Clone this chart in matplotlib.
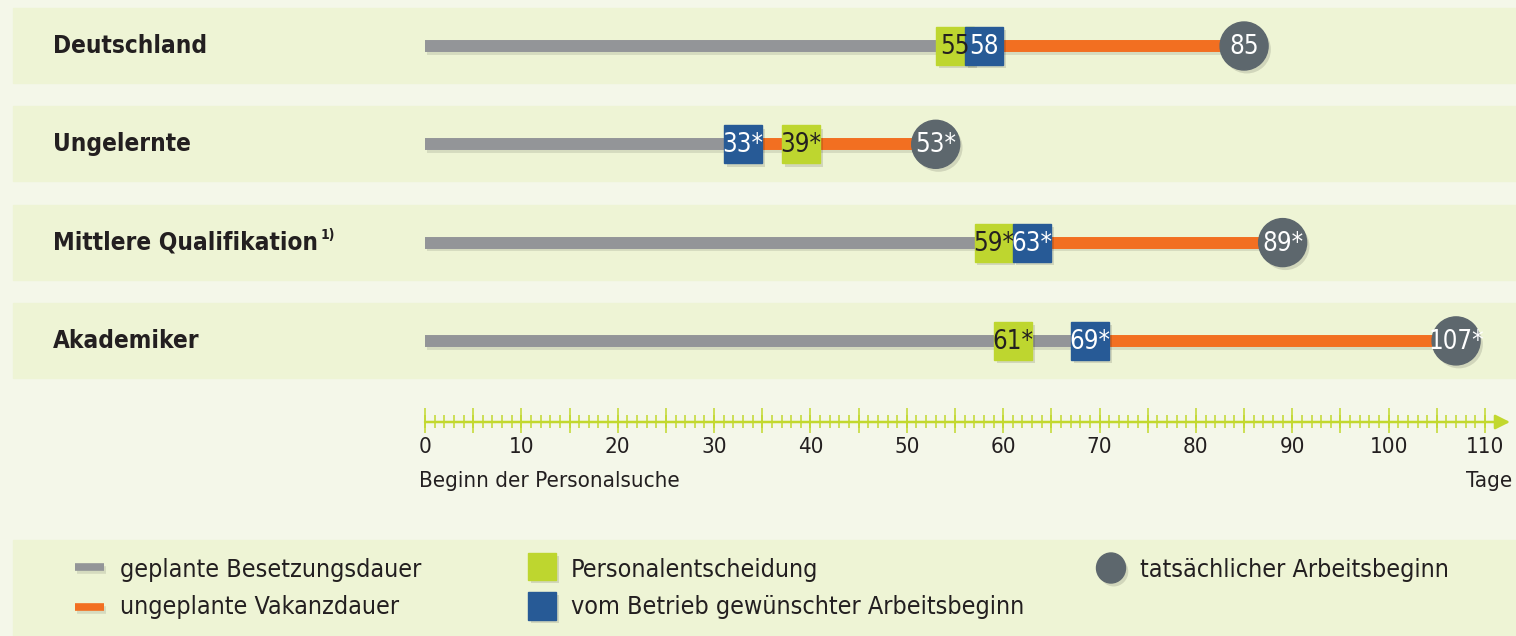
import matplotlib.pyplot as plt
import matplotlib.patheffects as pe
from matplotlib.patches import Rectangle, Ellipse
import numpy as np

plt.rcParams['font.family'] = ['DejaVu Sans']
plt.rcParams['font.stretch'] = 'condensed'

# Data (days)
categories = ["Deutschland", "Ungelernte", "Mittlere Qualifikation", "Akademiker"]
decision = [55, 39, 59, 61]      # Personalentscheidung
desired = [58, 33, 63, 69]       # vom Betrieb gewünschter Arbeitsbeginn
actual = [85, 53, 89, 107]       # tatsächlicher Arbeitsbeginn
starred = [False, True, True, True]
tick_values = list(range(0, 111, 10))

# Colours
bg = '#f4f7e9'
band = '#eef4d5'
c_gray = '#939598'
c_orange = '#f26f21'
c_green = '#bed62f'
c_blue = '#275a96'
c_circle = '#5d676d'
c_axis = '#c2d82e'
c_text = '#231f20'

W, H = 1516, 636
k = 1060 / 110          # pixels per day
fig = plt.figure(figsize=(W / 100, H / 100), dpi=100, facecolor=bg)
ax = fig.add_axes([0, 0, 1, 1])
ax.set_xlim(-425 / k, (W - 425) / k)
ax.set_ylim(H, 0)
ax.axis('off')

shadow = [pe.withSimplePatchShadow(offset=(2, -2.5), shadow_rgbFace='black', alpha=0.12)]
line_shadow = [pe.SimpleLineShadow(offset=(1.5, -2), shadow_color='black', alpha=0.1), pe.Normal()]

def lbl(v, star):
    return f"{v}*" if star else f"{v}"

def px(x):
    return (x - 425) / k

box = 38
for i, cat in enumerate(categories):
    yc = 46 + i * 98.3
    ax.add_patch(Rectangle((px(13), yc - 38), W / k, 75, color=band, zorder=0))
    t = ax.text(px(53), yc, cat, fontsize=17.5, fontweight='bold', color=c_text,
                ha='left', va='center')
    if cat.startswith("Mittlere"):
        ax.annotate("1)", xy=(1.01, 0.8), xycoords=t, fontsize=10, fontweight='bold',
                    color=c_text, ha='left', va='center')
    # bars
    ax.plot([0, desired[i]], [yc, yc], color=c_gray, lw=8.6, solid_capstyle='butt',
            zorder=2, path_effects=line_shadow)
    ax.plot([desired[i], actual[i]], [yc, yc], color=c_orange, lw=8.6,
            solid_capstyle='butt', zorder=2, path_effects=line_shadow)
    # markers
    ax.add_patch(Rectangle((decision[i] - box / 2 / k, yc - box / 2), box / k, box,
                           color=c_green, zorder=3, path_effects=shadow))
    ax.text(decision[i], yc + 1, lbl(decision[i], starred[i]), fontsize=18.5,
            color=c_text, ha='center', va='center', zorder=5)
    ax.add_patch(Rectangle((desired[i] - box / 2 / k, yc - box / 2), box / k, box,
                           color=c_blue, zorder=4, path_effects=shadow))
    ax.text(desired[i], yc + 1, lbl(desired[i], starred[i]), fontsize=18.5,
            color='white', ha='center', va='center', zorder=5)
    ax.add_patch(Ellipse((actual[i], yc), 48 / k, 48, color=c_circle, zorder=4,
                         path_effects=shadow))
    ax.text(actual[i], yc + 1, lbl(actual[i], starred[i]), fontsize=18.5,
            color='white', ha='center', va='center', zorder=5)

# time axis
ya = 422
ax.annotate("", xy=(px(1510), ya), xytext=(0, ya),
            arrowprops=dict(arrowstyle='-|>', color=c_axis, lw=1.8, mutation_scale=22,
                            shrinkA=0, shrinkB=0))
minor = np.arange(0, 111, 1)
major = np.arange(0, 111, 5)
ax.vlines(minor, ya - 7, ya + 6, color=c_axis, lw=1.1)
ax.vlines(major, ya - 14, ya + 11, color=c_axis, lw=1.1)
for v in tick_values:
    ax.text(v, 447, str(v), fontsize=16, color=c_text, ha='center', va='center')
ax.text(px(419), 481, "Beginn der Personalsuche", fontsize=16, color=c_text,
        ha='left', va='center')
ax.text(px(1512), 481, "Tage", fontsize=16, color=c_text, ha='right', va='center')

# legend
ax.add_patch(Rectangle((px(13), 540), W / k, 100, color=band, zorder=0))
ax.plot([px(75), px(104)], [567, 567], color=c_gray, lw=5.5, solid_capstyle='butt',
        path_effects=line_shadow)
ax.plot([px(75), px(104)], [607, 607], color=c_orange, lw=5.5, solid_capstyle='butt',
        path_effects=line_shadow)
ax.text(px(120), 570, "geplante Besetzungsdauer", fontsize=18, color=c_text, va='center')
ax.text(px(120), 607, "ungeplante Vakanzdauer", fontsize=18, color=c_text, va='center')
ax.add_patch(Rectangle((px(528), 553), 28 / k, 27, color=c_green, path_effects=shadow))
ax.add_patch(Rectangle((px(528), 592), 28 / k, 28, color=c_blue, path_effects=shadow))
ax.text(px(571), 570, "Personalentscheidung", fontsize=18, color=c_text, va='center')
ax.text(px(571), 607, "vom Betrieb gewünschter Arbeitsbeginn", fontsize=18, color=c_text,
        va='center')
ax.add_patch(Ellipse((px(1111), 568), 29 / k, 30, color=c_circle, path_effects=shadow))
ax.text(px(1140), 570, "tatsächlicher Arbeitsbeginn", fontsize=18, color=c_text, va='center')

fig.savefig("out.png", dpi=100, facecolor=bg)
